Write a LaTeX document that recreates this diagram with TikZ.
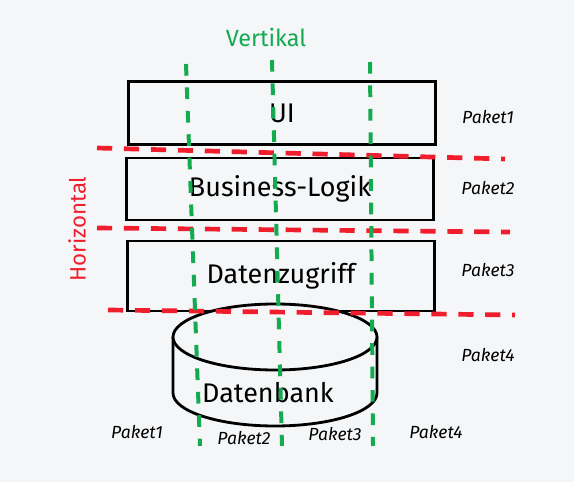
\documentclass[tikz,border=0pt]{standalone}
\usepackage{fontspec}
\setmainfont{Fira Sans}
\definecolor{board}{RGB}{244,246,248}
\definecolor{markgreen}{RGB}{20,170,80}
\definecolor{markred}{RGB}{240,30,45}
\begin{document}
\begin{tikzpicture}[x={(0.03cm,0cm)},y={(0cm,-0.03cm)},
layer/.style={draw=black, line width=2.4pt, minimum width=9.2cm, inner sep=0pt, font=\fontsize{23}{26}\selectfont},
hcut/.style={draw=markred, line width=4pt, dash pattern=on 13pt off 10pt},
vcut/.style={draw=markgreen, line width=3.4pt, dash pattern=on 10pt off 10pt},
paket/.style={font=\itshape\fontsize{15}{18}\selectfont}]
\fill[board] (0,0) rectangle (574,482);
\useasboundingbox (0,0) rectangle (574,482);
% layers
\node[layer, minimum height=1.9cm] (ui) at (282,113) {UI};
\node[layer, minimum height=1.86cm] (logik) at (280,189) {Business-Logik};
\node[layer, minimum height=2.1cm] (zugriff) at (281,276) {Datenzugriff};
% database
\draw[black, line width=2.4pt] (173,337) -- (173,393) arc[start angle=180, end angle=0, x radius=102, y radius=33] -- (377,337);
\draw[black, line width=2.4pt, fill=board] (275,337) ellipse[x radius=102, y radius=33];
\node[font=\fontsize{23}{26}\selectfont] (bank) at (268,393) {Datenbank};
% horizontal cuts
\draw[hcut] (97,148) -- (505,159);
\draw[hcut] (97,228) -- (510,232);
\draw[hcut] (108,310) -- (515,315);
% vertical cuts
\draw[vcut] (186,64) -- (200,446);
\draw[vcut] (272,60) -- (282,446);
\draw[vcut] (370,62) -- (373,446);
% labels
\node[text=markgreen, font=\fontsize{20}{24}\selectfont] (vertikal) at (266,38) {Vertikal};
\node[text=markred, rotate=90, font=\fontsize{19}{22}\selectfont] (horizontal) at (77,229) {Horizontal};
\foreach \n/\y in {1/117,2/188,3/270,4/355} {
\node[paket] (rechts\n) at (488,\y) {Paket\n};
}
\foreach \n/\x/\y in {1/137/432,2/244/438,3/335/434,4/436/432} {
\node[paket] (unten\n) at (\x,\y) {Paket\n};
}
\end{tikzpicture}
\end{document}
